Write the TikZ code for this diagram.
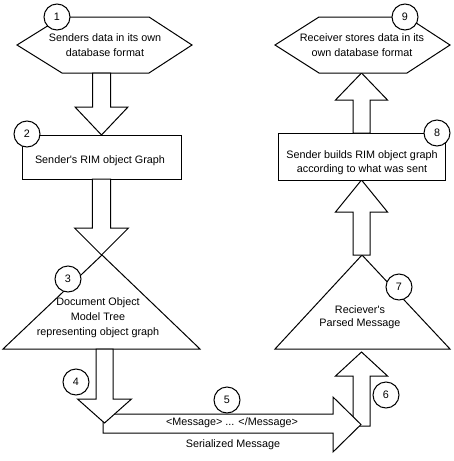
\documentclass[tikz,border=0pt]{standalone}
\usepackage{fontspec}
\setmainfont{Liberation Sans}
\begin{document}
\begin{tikzpicture}[x=1pt,y=-1pt,
  shp/.style={draw=black,fill=white,line width=1pt,line join=miter},
  lbl/.style={align=center,inner sep=0pt,font=\fontsize{10.8}{15}\selectfont},
  num/.style={circle,draw=black,fill=white,line width=1pt,minimum size=26pt,inner sep=0pt,font=\fontsize{10.8}{13}\selectfont}]
\useasboundingbox[fill=white] (0,0) rectangle (454,461);
% vertical block arrow: x, tail y, tip y, shaft half, head half, head base y
\newcommand\myvarrow[6]{%
  \draw[shp] ({#1-#4},#2) -- ({#1-#4},#6) -- ({#1-#5},#6) -- (#1,#3)
    -- ({#1+#5},#6) -- ({#1+#4},#6) -- ({#1+#4},#2) -- cycle;}
% shapes
\coordinate (h1w) at (17,45);
\coordinate (h1e) at (192,45);
\draw[shp] (h1w) -- (62,17) -- (149,17) -- (h1e) -- (149,73) -- (62,73) -- cycle;
\myvarrow{101.5}{73}{135}{9}{26.5}{107}
\draw[shp] (22,135) rectangle (181,179);
\myvarrow{101.5}{179}{255}{9.2}{27}{228}
\coordinate (a3) at (102,255);
\draw[shp] (a3) -- (200,349) -- (3,349) -- cycle;
% arrow 6 (up)
\myvarrow{361.5}{426}{352}{8.5}{26}{376}
% arrow 5 (horizontal)
\draw[shp] (103,414) -- (333,414) -- (333,397) -- (361,424.5) -- (333,452) -- (333,433) -- (103,433) -- cycle;
% arrow 4 (down)
\myvarrow{104.5}{349}{423}{8.5}{27}{399}
\coordinate (a7) at (362,255);
\draw[shp] (a7) -- (450,349) -- (275,349) -- cycle;
\myvarrow{361.5}{255}{180}{8.5}{26}{212}
\draw[shp] (278,133) rectangle (445,180);
\myvarrow{361.5}{133}{73}{8.5}{26}{100}
\draw[shp] (275,45) -- (319,17) -- (407,17) -- (450,45) -- (407,73) -- (319,73) -- cycle;
% labels
\node[lbl] (t1) at (105,45.5) {Senders data in its own\\database format};
\node[lbl] (t2) at (100,161) {Sender\textquotesingle s RIM object Graph};
\node[lbl] (t3) at (98,318) {Document Object\\Model Tree\\representing object graph};
\node[lbl] (t5a) at (232,423) {<Message> ... </Message>};
\node[lbl] (t5b) at (233,445) {Serialized Message};
\node[lbl,font=\fontsize{10.8}{12.5}\selectfont] (t7) at (360,317) {Reciever\textquotesingle s\\Parsed Message};
\node[lbl,font=\fontsize{10.8}{14}\selectfont] (t8) at (362,163) {Sender builds RIM object graph\\according to what was sent};
\node[lbl] (t9) at (362,45.5) {Receiver stores data in its\\own database format};
% numbers
\node[num] (c1) at (57,17) {1};
\node[num] (c2) at (27,134) {2};
\node[num] (c3) at (68,279) {3};
\node[num] (c4) at (76,382) {4};
\node[num] (c5) at (227,400) {5};
\node[num] (c6) at (386,395) {6};
\node[num] (c7) at (399,287) {7};
\node[num] (c8) at (437,133) {8};
\node[num] (c9) at (405,17) {9};
\end{tikzpicture}
\end{document}
